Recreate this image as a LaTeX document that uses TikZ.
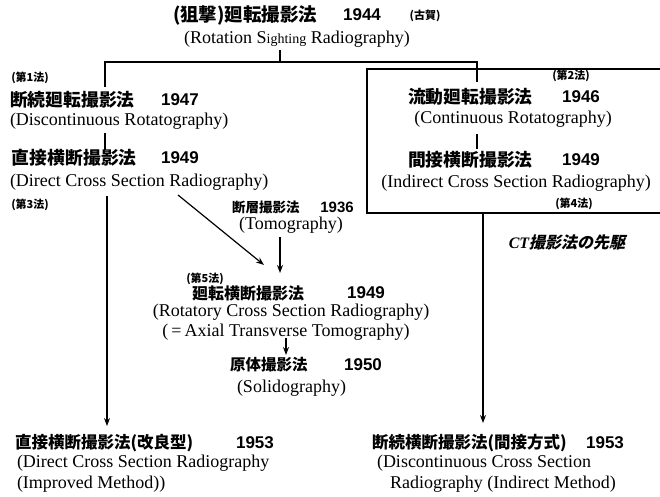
\documentclass[tikz,border=0pt]{standalone}
\usepackage{fontspec}
\setmainfont{Liberation Serif}
\newfontfamily\jp{Noto Sans CJK JP}
\newfontfamily\numf{Liberation Sans}
\newfontfamily\jpit{Noto Sans CJK JP}[FakeSlant=0.22]
\usetikzlibrary{arrows.meta}
\begin{document}
\begin{tikzpicture}[x=1pt,y=-1pt,
  every node/.style={inner sep=0pt,outer sep=0pt},
  en/.style={font=\fontsize{18}{20}\selectfont},
  ja/.style={font=\jp\bfseries\fontsize{17.8}{20}\selectfont},
  jas/.style={font=\jp\bfseries\fontsize{16}{18}\selectfont},
  nm/.style={font=\numf\bfseries\fontsize{17}{20}\selectfont},
  tag/.style={font=\jp\bfseries\fontsize{11}{12}\selectfont},
  ln/.style={line width=1.2pt},
  arr/.style={line width=1.2pt,-{Stealth[length=8pt,width=6pt]}}]
\useasboundingbox (0,0) rectangle (660,497);

% title
\node[font=\jp\bfseries\fontsize{18.5}{20}\selectfont,anchor=west] (t1) at (173,15) {(狙撃)廻転撮影法};
\node[nm] (t1n) at (362,15) {1944};
\node[tag] (t1k) at (425,16) {(古賀)};
\node[en] (t2) at (297,39) {(Rotation S{\fontsize{14}{16}\selectfont ighting} Radiography)};

% branching lines
\coordinate (c0) at (280,50);
\coordinate (cj) at (280,62);
\coordinate (cl) at (105,62);
\coordinate (cr) at (477,62);
\coordinate (cl2) at (105,87);
\coordinate (cr2) at (477,82);
\draw[ln] (c0) -- (cj);
\draw[ln] (cl2) -- (cl) -- (cr) -- (cr2);

% left column
\node[tag] (l1t) at (30,78) {(第1法)};
\node[ja,anchor=west] (l1) at (10,100) {断続廻転撮影法};
\node[nm] (l1n) at (180,100) {1947};
\node[en,anchor=west] (l1e) at (10,121) {(Discontinuous Rotatography)};
\coordinate (la) at (105,133);
\coordinate (lb) at (105,150);
\draw[ln] (la) -- (lb);
\node[ja,anchor=west] (l2) at (12,158) {直接横断撮影法};
\node[nm] (l2n) at (180,158) {1949};
\node[en,anchor=west] (l2e) at (10,182) {(Direct Cross Section Radiography)};
\node[tag] (l3t) at (30,205) {(第3法)};
\coordinate (lc) at (107,196);
\coordinate (ld) at (107,426);
\draw[arr] (lc) -- (ld);

% right box
\draw[ln] (665,69) -- (367,69) -- (367,213) -- (665,213);
\node[tag] (r1t) at (571,76) {(第2法)};
\node[ja,anchor=west] (r1) at (408,97) {流動廻転撮影法};
\node[nm] (r1n) at (581,97) {1946};
\node[en] (r1e) at (513,119) {(Continuous Rotatography)};
\coordinate (ra) at (477,134);
\coordinate (rb) at (477,149);
\draw[ln] (ra) -- (rb);
\node[ja,anchor=west] (r2) at (408,160) {間接横断撮影法};
\node[nm] (r2n) at (581,160) {1949};
\node[en] (r2e) at (516,183) {(Indirect Cross Section Radiography)};
\node[tag] (r4t) at (574,204) {(第4法)};
\coordinate (rc) at (483,213);
\coordinate (rd) at (483,423);
\draw[arr] (rc) -- (rd);
\node[font=\jpit\bfseries\fontsize{16}{18}\selectfont] (ct) at (567,242) {{\rmfamily\itshape\bfseries CT}撮影法の先駆};

% middle
\coordinate (da) at (178,195);
\coordinate (db) at (264,265);
\draw[arr] (da) -- (db);
\node[font=\jp\bfseries\fontsize{13.5}{16}\selectfont,anchor=west] (m0) at (232,207) {断層撮影法};
\node[font=\numf\bfseries\fontsize{15}{18}\selectfont] (m0n) at (337,207) {1936};
\node[en] (m0e) at (291,225) {(Tomography)};
\coordinate (ma) at (280,237);
\coordinate (mb) at (280,273);
\draw[arr] (ma) -- (mb);
\node[tag] (m5t) at (205,279) {(第5法)};
\node[jas,anchor=west] (m1) at (192,293) {廻転横断撮影法};
\node[nm] (m1n) at (366,293) {1949};
\node[en] (m1e) at (291,312) {(Rotatory Cross Section Radiography)};
\node[en] (m1f) at (286,332) {(\,=\,Axial Transverse Tomography)};
\coordinate (mc) at (286,338);
\coordinate (md) at (286,355);
\draw[arr] (mc) -- (md);
\node[font=\jp\bfseries\fontsize{15.5}{18}\selectfont,anchor=west] (m2) at (230,365) {原体撮影法};
\node[nm] (m2n) at (363,365) {1950};
\node[en,anchor=west] (m2e) at (237,388) {(Solidography)};

% bottom left
\node[font=\jp\bfseries\fontsize{16.5}{18}\selectfont,anchor=west] (b1) at (15,443) {直接横断撮影法(改良型)};
\node[nm] (b1n) at (255,443) {1953};
\node[en,anchor=west] (b1e) at (17,463) {(Direct Cross Section Radiography};
\node[en,anchor=west] (b1f) at (17,484) {(Improved Method))};

% bottom right
\node[font=\jp\bfseries\fontsize{16.5}{18}\selectfont,anchor=west] (b2) at (372,443) {断続横断撮影法(間接方式)};
\node[nm] (b2n) at (605,443) {1953};
\node[en,anchor=west] (b2e) at (377,463) {(Discontinuous Cross Section};
\node[en,anchor=west] (b2f) at (390,484) {Radiography (Indirect Method)};
\end{tikzpicture}
\end{document}
